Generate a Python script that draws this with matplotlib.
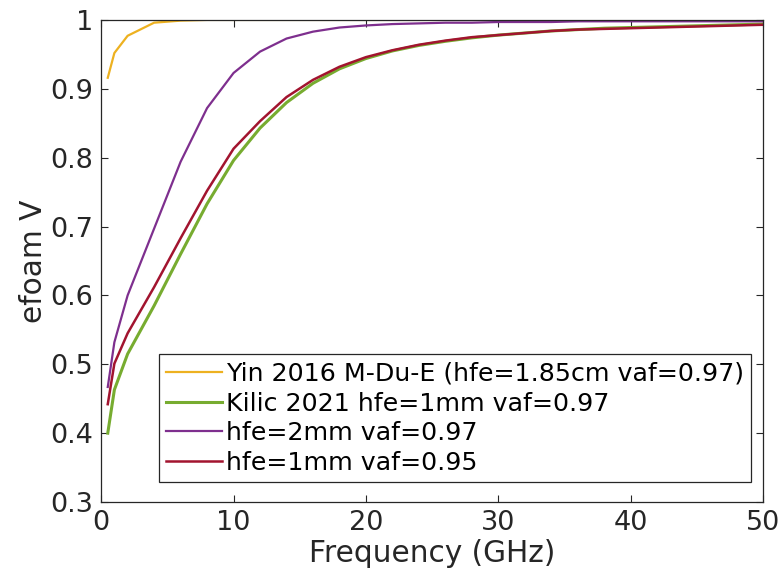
import matplotlib
matplotlib.use('Agg')
import matplotlib.pyplot as plt

# frequency points (GHz)
freq = [0.5, 1, 2, 4, 6, 8, 10, 12, 14, 16, 18, 20, 22, 24, 26, 28, 30,
        32, 34, 36, 38, 40, 42, 44, 46, 48, 50]

yin = [0.916, 0.952, 0.977, 0.996, 0.999, 1.0, 1.0, 1.0, 1.0, 1.0, 1.0, 1.0,
       1.0, 1.0, 1.0, 1.0, 1.0, 1.0, 1.0, 1.0, 1.0, 1.0, 1.0, 1.0, 1.0, 1.0, 1.0]
kilic = [0.400, 0.463, 0.515, 0.585, 0.660, 0.733, 0.796, 0.843, 0.880, 0.908,
         0.929, 0.944, 0.955, 0.963, 0.969, 0.974, 0.978, 0.981, 0.984, 0.986,
         0.988, 0.989, 0.990, 0.991, 0.992, 0.993, 0.994]
hfe2 = [0.467, 0.532, 0.600, 0.697, 0.794, 0.872, 0.923, 0.954, 0.973, 0.983,
        0.989, 0.992, 0.994, 0.995, 0.996, 0.996, 0.997, 0.997, 0.997, 0.998,
        0.998, 0.998, 0.998, 0.998, 0.998, 0.998, 0.998]
hfe1 = [0.442, 0.501, 0.545, 0.612, 0.683, 0.752, 0.813, 0.853, 0.888, 0.913,
        0.932, 0.946, 0.956, 0.964, 0.970, 0.975, 0.978, 0.981, 0.984, 0.986,
        0.987, 0.988, 0.989, 0.990, 0.991, 0.992, 0.993]

labels = ['Yin 2016 M-Du-E (hfe=1.85cm vaf=0.97)',
          'Kilic 2021 hfe=1mm vaf=0.97',
          'hfe=2mm vaf=0.97',
          'hfe=1mm vaf=0.95']

axcol = '#262626'
plt.rcParams['font.family'] = 'DejaVu Sans'

fig = plt.figure(figsize=(7.78, 5.78), dpi=100)
ax = fig.add_axes([0.13, 0.1315, 0.851, 0.834])

ax.plot(freq, yin, color='#EDB120', lw=1.6, label=labels[0])
ax.plot(freq, kilic, color='#77AC30', lw=2.2, label=labels[1])
ax.plot(freq, hfe2, color='#7E2F8E', lw=1.6, label=labels[2])
ax.plot(freq, hfe1, color='#A2142F', lw=1.8, label=labels[3])

ax.set_xlim(0, 50)
ax.set_ylim(0.3, 1)
ax.set_xticks([0, 10, 20, 30, 40, 50])
ax.set_yticks([0.3, 0.4, 0.5, 0.6, 0.7, 0.8, 0.9, 1.0])
ax.set_yticklabels(['0.3', '0.4', '0.5', '0.6', '0.7', '0.8', '0.9', '1'])
ax.tick_params(direction='in', length=5, width=0.8, top=True, right=True,
               labelsize=19.5, colors=axcol, pad=6)
for s in ax.spines.values():
    s.set_color(axcol)
    s.set_linewidth(0.9)

ax.set_xlabel('Frequency (GHz)', fontsize=21.3, color=axcol, labelpad=2)
ax.set_ylabel('efoam V', fontsize=21.3, color=axcol, labelpad=1)

leg = ax.legend(loc='lower right', bbox_to_anchor=(0.982, 0.041),
                fontsize=18.2, frameon=True, fancybox=False, framealpha=1,
                borderpad=0.3, handlelength=2.2, handletextpad=0.15,
                labelspacing=0.22, borderaxespad=0)
leg.get_frame().set_edgecolor(axcol)
leg.get_frame().set_linewidth(0.9)

fig.savefig('out.png', dpi=100)
